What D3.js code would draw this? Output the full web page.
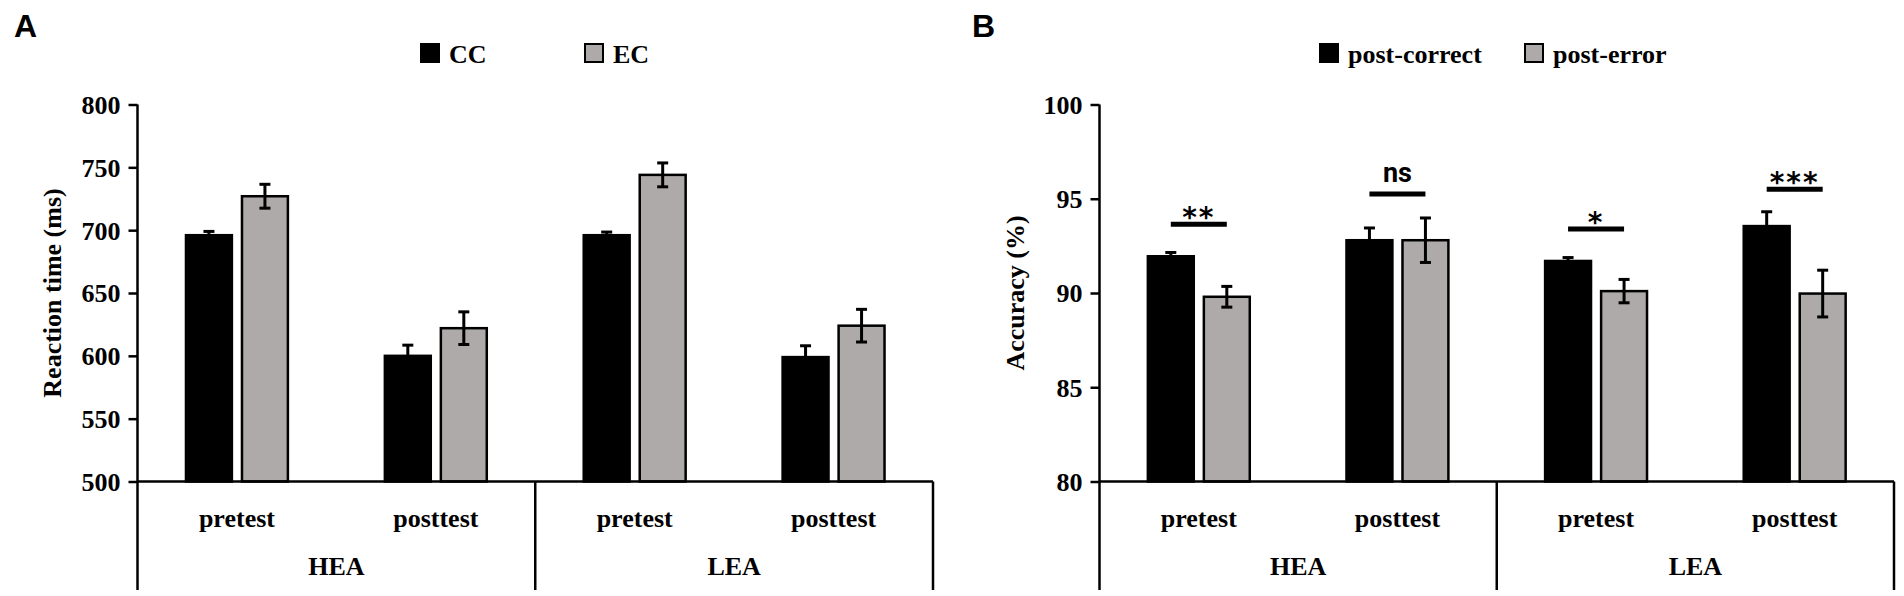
<!DOCTYPE html>
<html lang="en">
<head>
<meta charset="UTF-8"/>
<title>Reaction time and accuracy</title>
<script src="https://d3js.org/d3.v7.min.js"></script>
<style>
	body { margin: 0; background: #fff; }
	svg text { font-family: "Liberation Serif", "Times New Roman", serif; font-weight: bold; fill: #000; }
</style>
</head>
<body>
<div id="chart"></div>
<script>
// groups and sessions (x categories)
var groups = ["HEA", "LEA"];
var sessions = ["pretest", "posttest"];
var categories = ["HEA-pretest", "HEA-posttest", "LEA-pretest", "LEA-posttest"];

// panel A: reaction time (ms)
var rtSeries = ["CC", "EC"];
var rtCC = [696, 600, 696, 599];
var rtCCErr = [3, 8.5, 2.5, 9];
var rtEC = [727, 622, 744, 624];
var rtECErr = [9.5, 13, 9.5, 13];
var rtTicks = [500, 550, 600, 650, 700, 750, 800];

// panel B: accuracy (%)
var accSeries = ["post-correct", "post-error"];
var accCorrect = [91.95, 92.8, 91.7, 93.55];
var accCorrectErr = [0.2, 0.65, 0.18, 0.76];
var accError = [89.8, 92.8, 90.1, 89.97];
var accErrorErr = [0.55, 1.18, 0.62, 1.24];
var accTicks = [80, 85, 90, 95, 100];
var sigLabels = ["**", "ns", "*", "***"];
var sigLevel = [93.65, 95.25, 93.4, 95.5];

var W = 1904, H = 596;
var plotTop = 104.5, plotBase = 481.5, plotBottom = 590;
var black = "#000", gray = "#aeaaa9";

var svg = d3.select("#chart").append("svg")
	.attr("width", W).attr("height", H)
	.style("display", "block");
svg.append("rect").attr("width", W).attr("height", H).attr("fill", "#fff");

function drawPanel(o) {
	var g = svg.append("g");

	var y = d3.scaleLinear().domain(o.domain).range([plotBase, plotTop]);
	var x0 = d3.scaleBand().domain(categories).range([o.left, o.right]);
	var bw = x0.bandwidth();
	// two bars of 46px with 10px gap inside each category
	var x1 = d3.scaleBand().domain(o.series).range([0, bw])
		.paddingInner(0.18).paddingOuter((bw / 56 - 2 + 0.18) / 2);

	// panel letter
	g.append("text").attr("x", o.letterX).attr("y", 37)
		.style("font-family", "'Liberation Sans', Arial, sans-serif")
		.style("font-size", "32px").text(o.letter);

	// legend
	o.series.forEach(function (s, i) {
		g.append("rect").attr("x", o.legendX[i]).attr("y", 44)
			.attr("width", 18).attr("height", 18)
			.attr("fill", i === 0 ? black : gray)
			.attr("stroke", black).attr("stroke-width", 2);
		g.append("text").attr("x", o.legendX[i] + 28).attr("y", 62.5)
			.style("font-size", "26px").text(s);
	});

	// y axis
	var axis = g.append("g").attr("transform", "translate(" + o.left + ",0)")
		.call(d3.axisLeft(y).tickValues(o.ticks).tickSize(9).tickPadding(8));
	axis.select(".domain").remove();
	axis.selectAll(".tick line").attr("stroke", black).attr("stroke-width", 2.5);
	axis.selectAll(".tick text")
		.style("font-family", "'Liberation Serif', 'Times New Roman', serif")
		.style("font-size", "26px").style("font-weight", "bold")
		.attr("dy", "0.34em");

	g.append("text")
		.attr("transform", "translate(" + o.titleX + "," + ((plotTop + plotBase) / 2) + ") rotate(-90)")
		.attr("text-anchor", "middle").style("font-size", "26px").text(o.title);

	// bars
	var rows = categories.map(function (c, i) {
		return o.series.map(function (s, j) {
			return { cat: c, s: s, j: j, v: o.values[j][i], e: o.errors[j][i] };
		});
	});
	var cg = g.selectAll("g.cat").data(rows).enter().append("g")
		.attr("transform", function (d, i) { return "translate(" + x0(categories[i]) + ",0)"; });

	cg.selectAll("rect").data(function (d) { return d; }).enter().append("rect")
		.attr("x", function (d) { return x1(d.s); })
		.attr("y", function (d) { return y(d.v); })
		.attr("width", x1.bandwidth())
		.attr("height", function (d) { return plotBase - y(d.v); })
		.attr("fill", function (d) { return d.j === 0 ? black : gray; })
		.attr("stroke", black).attr("stroke-width", 2.5);

	// error bars
	var eb = cg.selectAll("g.err").data(function (d) { return d; }).enter().append("g")
		.attr("stroke", black).attr("stroke-width", 3);
	eb.append("line")
		.attr("x1", function (d) { return x1(d.s) + x1.bandwidth() / 2; })
		.attr("x2", function (d) { return x1(d.s) + x1.bandwidth() / 2; })
		.attr("y1", function (d) { return y(d.v + d.e); })
		.attr("y2", function (d) { return y(d.v - d.e); });
	[1, -1].forEach(function (k) {
		eb.append("line")
			.attr("x1", function (d) { return x1(d.s) + x1.bandwidth() / 2 - 5.5; })
			.attr("x2", function (d) { return x1(d.s) + x1.bandwidth() / 2 + 5.5; })
			.attr("y1", function (d) { return y(d.v + k * d.e); })
			.attr("y2", function (d) { return y(d.v + k * d.e); });
	});

	// significance markers
	if (o.sig) {
		categories.forEach(function (c, i) {
			var xa = x0(c) + x1(o.series[0]) + x1.bandwidth() / 2;
			var xb = x0(c) + x1(o.series[1]) + x1.bandwidth() / 2;
			var yy = y(sigLevel[i]);
			g.append("line").attr("x1", xa).attr("x2", xb)
				.attr("y1", yy).attr("y2", yy)
				.attr("stroke", black).attr("stroke-width", 5);
			var isNs = sigLabels[i] === "ns";
			g.append("text").attr("x", (xa + xb) / 2)
				.attr("y", isNs ? yy - 12 : yy + 3)
				.attr("text-anchor", "middle")
				.style("font-family", isNs ? "Roboto, sans-serif" : "'DejaVu Sans', sans-serif")
				.style("font-size", isNs ? "27px" : "28px")
				.style("letter-spacing", isNs ? "0px" : "2px")
				.text(sigLabels[i]);
		});
	}

	// baseline and category frame
	g.append("line").attr("x1", o.left).attr("x2", o.right)
		.attr("y1", plotBase).attr("y2", plotBase).attr("stroke", black).attr("stroke-width", 2.5);
	var mid = x0(categories[2]);
	g.append("line").attr("x1", o.left).attr("x2", o.left)
		.attr("y1", plotTop).attr("y2", plotBottom).attr("stroke", black).attr("stroke-width", 2.5);
	[mid, o.right].forEach(function (xx) {
		g.append("line").attr("x1", xx).attr("x2", xx)
			.attr("y1", plotBase).attr("y2", plotBottom).attr("stroke", black).attr("stroke-width", 2.5);
	});

	// category labels
	categories.forEach(function (c, i) {
		g.append("text").attr("x", x0(c) + bw / 2).attr("y", 527)
			.attr("text-anchor", "middle").style("font-size", "26px")
			.text(sessions[i % 2]);
	});
	groups.forEach(function (gr, i) {
		g.append("text").attr("x", x0(categories[i * 2]) + bw)
			.attr("y", 575).attr("text-anchor", "middle").style("font-size", "26px")
			.text(gr);
	});
}

drawPanel({
	letter: "A", letterX: 14,
	left: 137.5, right: 933,
	domain: [500, 800], ticks: rtTicks,
	series: rtSeries, values: [rtCC, rtEC], errors: [rtCCErr, rtECErr],
	legendX: [421, 585], title: "Reaction time (ms)", titleX: 61,
	sig: false
});

drawPanel({
	letter: "B", letterX: 972,
	left: 1099.5, right: 1894,
	domain: [80, 100], ticks: accTicks,
	series: accSeries, values: [accCorrect, accError], errors: [accCorrectErr, accErrorErr],
	legendX: [1320, 1525], title: "Accuracy (%)", titleX: 1024,
	sig: true
});
</script>
</body>
</html>
